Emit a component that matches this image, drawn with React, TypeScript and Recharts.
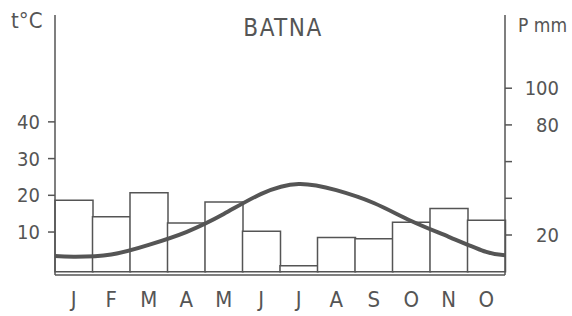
import { ComposedChart, Bar, Line, XAxis, YAxis } from "recharts";

const months = ["J", "F", "M", "A", "M", "J", "J", "A", "S", "O", "N", "O"];
const precip = [39, 30, 43, 26.5, 38, 22, 3.3, 18.7, 18, 27, 34.5, 28];
// temperature curve: month centres plus the two edges of the year
const tempX = [0, 0.5, 1.5, 2.5, 3.5, 4.5, 5.5, 6.5, 7.5, 8.5, 9.5, 10.5, 11.5, 12];
const tempC = [3.5, 3.3, 3.9, 6.5, 10, 14.9, 20.4, 23.1, 21.4, 17.9, 13, 8.7, 4.6, 3.7];
const tempTicks = [10, 20, 30, 40];
const precipTicks = [20, 40, 60, 80, 100];
const precipLabels = [20, 80, 100];

const ink = "#555";
const font = "'DejaVu Sans Condensed', 'Liberation Sans Narrow', 'Liberation Sans', sans-serif";

const data = months.map((m, i) => ({ m, p: precip[i] }));
const curve = tempX.map((x, i) => ({ x, t: tempC[i] }));

const RightTick = (props: any) => {
    const { x, y, payload } = props;
    if (!precipLabels.includes(payload.value)) return null;
    return (
        <text x={x + 47} y={y} dy="0.355em" textAnchor="end" fill={ink} fontSize={20} fontFamily={font}>
            {payload.value}
        </text>
    );
};

export default function App() {
    return (
        <div style={{ position: "absolute", left: 0, top: 0, width: 572, height: 316, background: "#fff" }}>
            <ComposedChart
                width={572}
                height={316}
                data={data}
                barCategoryGap={0}
                margin={{ top: 15, right: 0, bottom: 0, left: 0 }}
            >
                <XAxis
                    dataKey="m"
                    xAxisId="cat"
                    axisLine={{ stroke: ink, strokeWidth: 1.5 }}
                    tickLine={false}
                    tickSize={0}
                    tickMargin={16}
                    height={41}
                    interval={0}
                    tick={{ fill: ink, fontSize: 22, fontFamily: font }}
                />
                <XAxis xAxisId="num" dataKey="x" type="number" domain={[0, 12]} allowDataOverflow hide />
                <YAxis
                    yAxisId="t"
                    width={55}
                    domain={[-1.7, 69.1]}
                    allowDataOverflow
                    ticks={tempTicks}
                    interval={0}
                    tickSize={7}
                    tickMargin={8}
                    axisLine={{ stroke: ink, strokeWidth: 1.5 }}
                    tickLine={{ stroke: ink, strokeWidth: 1.5 }}
                    tick={{ fill: ink, fontSize: 20, fontFamily: font }}
                />
                <YAxis
                    yAxisId="p"
                    orientation="right"
                    width={67}
                    domain={[-1.8, 139.9]}
                    allowDataOverflow
                    ticks={precipTicks}
                    interval={0}
                    tickSize={7}
                    tickMargin={0}
                    axisLine={{ stroke: ink, strokeWidth: 1.5 }}
                    tickLine={{ stroke: ink, strokeWidth: 1.5 }}
                    tick={<RightTick />}
                />
                <Bar
                    dataKey="p"
                    xAxisId="cat"
                    yAxisId="p"
                    fill="#fff"
                    stroke={ink}
                    strokeWidth={1.5}
                    isAnimationActive={false}
                />
                <Line
                    data={curve}
                    dataKey="t"
                    xAxisId="num"
                    yAxisId="t"
                    type="natural"
                    stroke={ink}
                    strokeWidth={4}
                    dot={false}
                    activeDot={false}
                    isAnimationActive={false}
                />
                <text x={11} y={28} fill={ink} fontSize={22} fontFamily={font}>t°C</text>
                <text x={518} y={32} fill={ink} fontSize={19} fontFamily={font}>P mm</text>
                <text x={283} y={36} textAnchor="middle" fill={ink} fontSize={24} letterSpacing={1.5} fontFamily={font}>BATNA</text>
            </ComposedChart>
        </div>
    );
}
